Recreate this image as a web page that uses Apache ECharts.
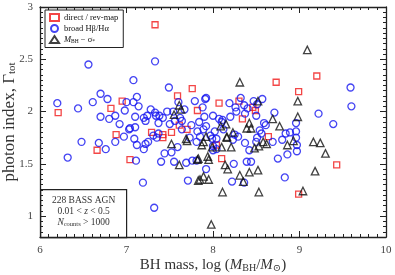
<!DOCTYPE html>
<html><head><meta charset="utf-8">
<script src="https://cdn.jsdelivr.net/npm/echarts@6/dist/echarts.min.js"></script>
<style>html,body{margin:0;padding:0;background:#fff}#c{width:395px;height:275px}</style>
</head><body><div id="c"></div>
<script>
// x: log(M_BH/M_sun), y: photon index Gamma_tot
const xTicks = [6, 7, 8, 9, 10];
const yTicks = [1, 1.5, 2, 2.5, 3];
const seriesNames = ['direct / rev-map', 'broad Hβ/Hα', 'M_BH - sigma'];

const directPts = [
  [6.21,1.99],[6.66,1.63],[6.82,2.03],[6.88,1.78],[6.95,2.10],[7.04,1.54],[7.29,1.80],
  [7.33,2.83],[7.42,1.78],[7.42,1.75],[7.52,1.80],[7.59,2.15],[7.61,1.87],[7.70,1.83],
  [7.76,2.22],[7.82,2.01],[8.04,1.68],[8.07,2.08],[8.10,1.55],[8.30,2.10],[8.34,1.93],
  [8.46,2.04],[8.49,2.01],[8.64,1.76],[8.73,2.28],[8.99,2.19],[8.99,1.21],[9.20,2.34],[9.43,1.49]
];

const broadPts = [
  [6.56,2.45],[7.33,2.48],[7.08,2.30],[7.49,2.23],[6.20,2.08],[6.44,2.03],[6.61,2.09],
  [6.70,2.17],[6.78,2.12],[6.70,1.95],[6.80,1.93],[6.87,1.96],[6.92,1.88],[6.98,2.01],
  [7.00,2.09],[7.08,2.09],[7.12,2.14],[7.14,2.05],[7.10,1.95],[7.04,1.84],[7.10,1.85],
  [6.97,1.76],[7.09,1.74],[7.28,2.02],[7.24,1.96],[7.20,1.94],[7.22,1.91],[7.33,1.99],
  [7.34,1.96],[7.38,1.96],[7.42,1.94],[7.47,2.00],[7.54,2.00],[7.60,2.09],[7.62,1.94],
  [7.67,2.02],[7.79,2.10],[7.56,1.91],[7.64,1.91],[7.31,1.77],[7.35,1.75],[7.37,1.79],
  [6.48,1.71],[6.68,1.70],[6.87,1.71],[6.76,1.64],[7.03,1.83],[6.32,1.56],[7.12,1.68],
  [7.20,1.64],[7.22,1.69],[7.25,1.71],[7.11,1.53],[7.19,1.32],[7.32,1.08],[7.40,1.52],
  [7.44,1.60],[7.52,1.61],[7.55,1.52],[7.59,1.66],[7.69,1.51],[7.71,1.34],[7.76,1.53],
  [7.81,1.53],[7.92,2.13],[7.88,2.04],[8.00,1.96],[7.75,1.87],[7.82,1.81],[7.89,1.83],
  [7.92,1.86],[7.97,1.77],[7.99,1.74],[7.73,1.75],[7.81,1.71],[7.85,1.76],[7.64,1.83],
  [7.37,1.89],[8.32,2.13],[8.47,2.10],[8.57,2.12],[8.19,2.08],[8.36,2.06],[8.26,2.04],
  [8.27,2.00],[8.40,2.03],[8.37,1.98],[8.51,2.07],[8.50,1.96],[8.71,1.99],[8.07,1.93],
  [8.11,1.92],[8.12,1.83],[8.02,1.81],[8.04,1.74],[8.25,1.78],[8.29,1.76],[8.23,1.73],
  [8.59,1.89],[8.61,1.87],[8.54,1.82],[8.56,1.79],[8.51,1.75],[8.69,1.71],[8.37,1.70],
  [8.50,1.71],[8.80,1.73],[8.84,1.79],[8.89,1.80],[8.96,1.81],[8.96,1.75],[7.91,2.12],
  [9.22,1.98],[9.59,2.23],[9.60,2.05],[9.39,1.88],[7.84,1.90],[8.96,1.89],[8.75,1.55],
  [8.83,1.37],[8.97,1.68],[8.97,1.62],[8.86,1.59],[8.42,1.63],[8.24,1.50],[8.39,1.52],
  [8.44,1.52],[8.22,1.33],[8.36,1.32],[7.92,1.45],[8.00,1.67],[8.00,1.63],[8.04,1.64],
  [8.10,1.90],[7.50,1.88],[7.90,1.95],[8.20,1.95]
];

const msigmaPts = [
  [9.09,2.59],[8.31,2.28],[8.52,2.10],[8.98,2.10],[8.98,1.95],[8.69,1.93],[8.77,1.86],
  [8.15,1.88],[8.09,1.86],[8.42,1.89],[8.44,1.84],[8.39,1.84],[8.23,1.80],[8.16,1.76],
  [7.92,1.76],[8.93,1.72],[9.16,1.71],[9.24,1.70],[7.61,2.06],[7.63,2.02],[7.55,1.97],
  [7.52,1.69],[7.69,1.74],[7.70,1.72],[7.89,1.71],[7.87,1.68],[7.61,1.49],[7.82,1.54],
  [7.94,1.57],[7.95,1.54],[7.89,1.38],[7.85,1.35],[7.95,1.35],[7.98,0.92],[8.21,1.66],
  [8.14,1.49],[8.17,1.45],[8.31,1.39],[8.42,1.42],[8.52,1.44],[8.35,1.33],[8.11,1.23],
  [8.53,1.23],[8.53,1.67],[8.62,1.69],[8.58,1.71],[8.86,1.68],[9.30,1.60],[9.18,1.43],
  [9.04,1.24],[8.16,1.75],[8.10,1.66],[7.83,1.34],[7.83,1.55],[7.99,1.66],[8.48,1.65]
];

const serif = '"Liberation Serif", "DejaVu Serif", serif';
const chart = echarts.init(document.getElementById('c'), null, {renderer: 'canvas'});

const italic15 = {fontStyle: 'italic', fontSize: 15, fontFamily: serif, color: '#333'};
const legRich = {
  i: {fontStyle: 'italic', fontSize: 8.5, fontFamily: serif, color: '#111'},
  s: {fontSize: 5.5, fontFamily: serif, color: '#111', padding: [4, 0, 0, 0]}
};

function xAxisCfg(pos, showLabels) {
  return {
    type: 'value', position: pos, min: xTicks[0], max: xTicks[xTicks.length - 1], interval: 1,
    axisLine: {show: true, onZero: false, lineStyle: {color: '#222', width: 1.3}},
    axisTick: {show: true, inside: true, length: 6, lineStyle: {color: '#222', width: 1}},
    minorTick: {show: true, splitNumber: 10, length: 3, lineStyle: {color: '#222', width: 1}},
    splitLine: {show: false},
    axisLabel: {show: showLabels, color: '#444', fontSize: 11, fontFamily: serif, margin: 8},
    name: showLabels ? 'BH mass, log ({i|M}{sub|BH}/{i|M}{sub|⊙})' : '',
    nameLocation: 'middle', nameGap: 20, nameMoveOverlap: false,
    nameTextStyle: {fontSize: 15, fontFamily: serif, color: '#333', rich: {
      sub: {fontSize: 10, fontFamily: serif, color: '#333', padding: [6, 0, 0, 0]},
      i: italic15}}
  };
}
function yAxisCfg(pos, showLabels) {
  return {
    type: 'value', position: pos, min: 0.8, max: yTicks[yTicks.length - 1],
    axisLine: {show: true, onZero: false, lineStyle: {color: '#222', width: 1.3}},
    axisTick: {show: true, inside: true, length: 6, lineStyle: {color: '#222', width: 1}},
    minorTick: {show: true, splitNumber: 10, length: 3, lineStyle: {color: '#222', width: 1}},
    splitLine: {show: false},
    axisLabel: {show: showLabels, color: '#444', fontSize: 11, fontFamily: serif, margin: 7,
      showMinLabel: false,
      formatter: v => (yTicks.some(t => Math.abs(t - v) < 1e-6) ? String(v) : '')},
    name: showLabels ? 'photon index, Γ{sub|tot}' : '',
    nameLocation: 'middle', nameGap: 22, nameRotate: 90, nameMoveOverlap: false,
    nameTextStyle: {fontSize: 17, fontFamily: serif, color: '#333', rich: {
      sub: {fontSize: 11, fontFamily: serif, color: '#333', padding: [5, 0, 0, 0]}}}
  };
}

const mk = (name, data, symbol, color, size) => ({
  name, type: 'scatter', data, symbol, symbolSize: size, xAxisIndex: 0, yAxisIndex: 0,
  itemStyle: {color: 'rgba(0,0,0,0)', borderColor: color, borderWidth: 1.3},
  emphasis: {disabled: true}, silent: true, animation: false
});

chart.setOption({
  backgroundColor: '#fff',
  animation: false,
  grid: {left: 40, right: 9, top: 7, bottom: 38, containLabel: false, outerBoundsMode: 'none'},
  xAxis: [xAxisCfg('bottom', true), xAxisCfg('top', false)],
  yAxis: [yAxisCfg('left', true), yAxisCfg('right', false)],
  legend: {
    orient: 'vertical', left: 45, top: 10, padding: [3, 5, 3, 4], itemGap: 2,
    itemWidth: 9, itemHeight: 7, borderColor: '#222', borderWidth: 1, backgroundColor: '#fff',
    data: seriesNames,
    textStyle: {fontSize: 8.5, fontFamily: serif, color: '#111', rich: legRich},
    formatter: n => n === seriesNames[2] ? '{i|M}{s|BH} − σ{s|*}' : n
  },
  series: [
    mk(seriesNames[0], directPts, 'rect', '#f01818', 6),
    mk(seriesNames[1], broadPts, 'circle', '#1515f0', 7),
    mk(seriesNames[2], msigmaPts, 'triangle', '#111', 7.5)
  ],
  graphic: [{
    type: 'group', left: 40, top: 189, z: 100, children: [
      {type: 'rect', shape: {x: 0, y: 0, width: 86, height: 48},
       style: {fill: '#fff', stroke: '#222', lineWidth: 1.2}},
      {type: 'text', x: 43, y: 11, style: {text: '228 BASS AGN', font: '9.5px ' + serif, fill: '#333', align: 'center', verticalAlign: 'middle'}},
      {type: 'text', x: 43, y: 22, style: {rich: {i: {fontStyle: 'italic', fontSize: 9.5, fontFamily: serif, fill: '#333'}}, text: '0.01 < {i|z} < 0.5', font: '9.5px ' + serif, fill: '#333', align: 'center', verticalAlign: 'middle'}},
      {type: 'text', x: 43, y: 33, style: {rich: {i: {fontStyle: 'italic', fontSize: 9.5, fontFamily: serif, fill: '#333'}, s: {fontSize: 6.5, fontFamily: serif, fill: '#333', padding: [4, 0, 0, 0]}}, text: '{i|N}{s|counts} > 1000', font: '9.5px ' + serif, fill: '#333', align: 'center', verticalAlign: 'middle'}}
    ]
  }]
});
</script></body></html>
